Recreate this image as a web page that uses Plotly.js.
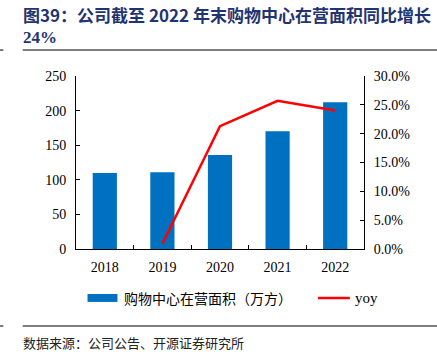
<!DOCTYPE html>
<html><head><meta charset="utf-8">
<script src="https://cdn.plot.ly/plotly-3.0.1.min.js"></script>
<style>html,body{margin:0;padding:0;background:#fff}#c{width:437px;height:361px}</style>
</head><body><div id="c"></div>
<script>
const years = ['2018','2019','2020','2021','2022'];
const area = [110, 111, 136, 170, 212];
const yoyYears = ['2019','2020','2021','2022'];
const yoy = [0.009, 0.213, 0.257, 0.24];
const leftTicks = [0,50,100,150,200,250];
const rightTicks = [0,0.05,0.10,0.15,0.20,0.25,0.30];
const barName = '购物中心在营面积（万方）';
const lineName = 'yoy';

const serif = '"Liberation Serif", "Times New Roman", serif';
const cjk = '"Noto Sans CJK SC", sans-serif';

const traces = [
  {type:'bar', x:years, y:area, name:barName, marker:{color:'#0070C0'}, width:0.42},
  {type:'scatter', mode:'lines', x:yoyYears, y:yoy, name:lineName, yaxis:'y2', line:{color:'#FF0000', width:2.5}}
];
const layout = {
  width:437, height:361,
  margin:{l:76, r:73, t:76, b:112},
  paper_bgcolor:'#fff', plot_bgcolor:'#fff',
  showlegend:false,
  xaxis:{type:'category', showline:true, linecolor:'#000', linewidth:1, ticks:'inside', tickson:'boundaries', ticklen:4, tickcolor:'#000', tickfont:{family:serif, size:14, color:'#000'}, showgrid:false, zeroline:false, ticklabelstandoff:5},
  yaxis:{range:[0,250], tickvals:leftTicks, ticktext:leftTicks.map(String), showline:true, linecolor:'#000', ticks:'inside', ticklen:4, tickcolor:'#000', tickfont:{family:serif, size:14, color:'#000'}, showgrid:false, zeroline:false, ticklabelstandoff:6},
  yaxis2:{overlaying:'y', side:'right', range:[0,0.30], tickvals:rightTicks, ticktext:rightTicks.map(v=>(v*100).toFixed(1)+'%'), showline:true, linecolor:'#000', ticks:'inside', ticklen:4, tickcolor:'#000', tickfont:{family:serif, size:14, color:'#000'}, showgrid:false, zeroline:false, ticklabelstandoff:6},
  shapes:[
    {type:'line', xref:'paper', yref:'paper', x0:-0.185, x1:1.26, y0:1.15, y1:1.15, line:{color:'#555', width:1.5}},
    {type:'line', xref:'paper', yref:'paper', x0:-0.185, x1:1.26, y0:-0.445, y1:-0.445, line:{color:'#555', width:1.5}},
    {type:'line', xref:'paper', yref:'paper', x0:-0.264, x1:-0.252, y0:1.15, y1:1.15, line:{color:'#555', width:1.5}},
    {type:'line', xref:'paper', yref:'paper', x0:-0.264, x1:-0.252, y0:-0.445, y1:-0.445, line:{color:'#555', width:1.5}},
    {type:'rect', xref:'paper', yref:'paper', x0:0.040, x1:0.144, y0:-0.26, y1:-0.306, fillcolor:'#0070C0', line:{width:0}},
    {type:'line', xref:'paper', yref:'paper', x0:0.840, x1:0.951, y0:-0.283, y1:-0.283, line:{color:'#FF0000', width:2.5}}
  ],
  annotations:[
    {xref:'paper', yref:'paper', x:-0.19, y:1.358, xanchor:'left', yanchor:'middle', showarrow:false, text:'<b>图39：公司截至 2022 年末购物中心在营面积同比增长</b>', font:{family:cjk, size:17, color:'#1F3470'}},
    {xref:'paper', yref:'paper', x:-0.19, y:1.22, xanchor:'left', yanchor:'middle', showarrow:false, text:'<b>24%</b>', font:{family:serif, size:17, color:'#1F3470'}},
    {xref:'paper', yref:'paper', x:0.160, y:-0.283, xanchor:'left', yanchor:'middle', showarrow:false, text:barName, font:{family:cjk, size:14, color:'#000'}},
    {xref:'paper', yref:'paper', x:0.962, y:-0.283, xanchor:'left', yanchor:'middle', showarrow:false, text:lineName, font:{family:serif, size:15, color:'#000'}},
    {xref:'paper', yref:'paper', x:-0.19, y:-0.543, xanchor:'left', yanchor:'middle', showarrow:false, text:'数据来源：公司公告、开源证券研究所', font:{family:cjk, size:13, color:'#222'}}
  ]
};
Plotly.newPlot('c', traces, layout, {displayModeBar:false, staticPlot:true});
</script></body></html>
